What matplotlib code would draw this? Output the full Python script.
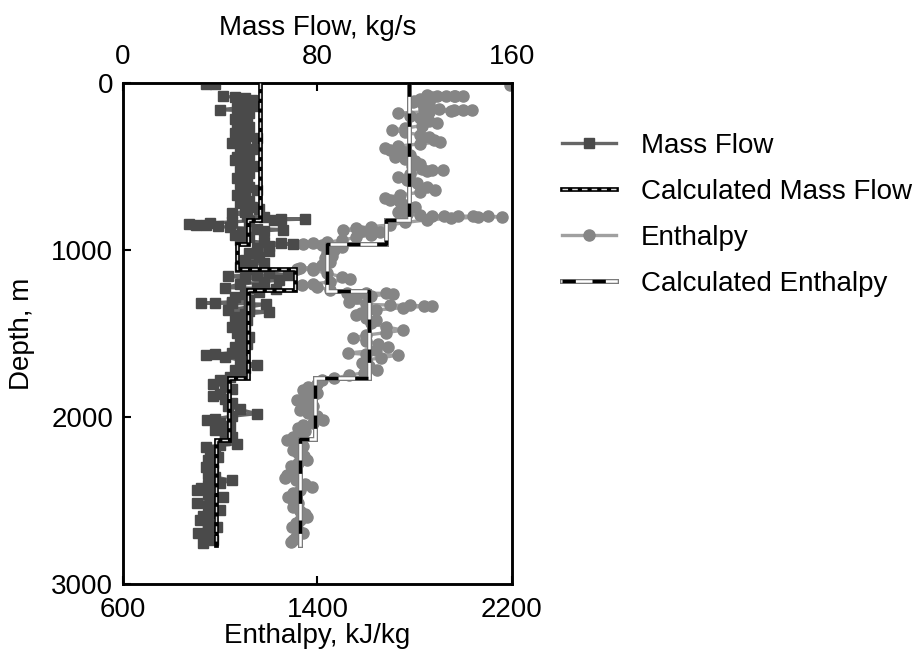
import numpy as np
import matplotlib
matplotlib.use('Agg')
import matplotlib.pyplot as plt

plt.rcParams['font.family'] = ['Liberation Sans', 'DejaVu Sans']

# measured mass flow (kg/s) vs depth (m)
mass_depth = [5, 6, np.nan,
              80, 85, 90, 100, 110, 120, 135, 150, 160, 165, 180, 200, 215, 230, 250, 265, 280, 300,
              315, 330, 345, 360, 380, 395, 410, 430, 445, 460, 475, 495, 510, 525, 540, 555, 570, 590,
              605, 620, 640, 655, 670, 690, 705, 720, 740, 755, 770, 780, 795, 805, 812, 815, 820, 825,
              832, 838, 842, 848, 853, 858, 865, 872, 878, 885, 895, 910, 925, 940, 955, 960, 963, 975,
              990, 1005, 1020, 1040, 1060, 1075, 1090, 1100, 1115, 1135, 1150, 1152, 1155, 1170, 1180,
              1190, 1205, 1225, 1230, 1235, 1250, 1265, 1280, 1300, 1310, 1315, 1317, 1320, 1325, 1340,
              1360, 1365, 1370, 1385, 1400, 1420, 1440, 1460, 1480, 1500, 1520, 1540, 1560, 1580, 1600,
              1615, 1625, 1630, 1640, 1660, 1690, 1705, 1720, 1740, 1760, 1780, 1800, 1815, 1835, 1860,
              1875, 1895, 1915, 1935, 1955, 1980, 1995, 2010, 2020, 2035, 2055, 2080, 2100, 2120, 2140,
              2160, 2170, 2180, 2200, 2220, 2240, 2260, 2275, 2300, 2320, 2340, 2360, 2380, 2395, 2410,
              2425, 2440, 2460, 2480, 2500, 2515, 2535, 2556, 2575, 2595, 2617, 2640, 2658, 2675, 2695,
              2715, 2735, 2755]
mass_flow = [34, 38, np.nan,
             41, 46, 50, 53, 49, 52, 54, 47, 40, 48, 52, 50, 46, 51, 47, 52, 48, 46,
             51, 55, 49, 45, 50, 53, 48, 52, 47, 46, 51, 54, 50, 48, 52, 49, 47, 51,
             48, 52, 55, 50, 47, 50, 52, 48, 53, 56, 50, 45, 51, 58, 65, 75, 62, 52,
             45, 36, 27, 30, 34, 39, 44, 55, 66, 58, 49, 46, 52, 48, 58, 65, 70, 60,
             55, 60, 52, 56, 50, 58, 53, 48, 52, 60, 68, 55, 43, 50, 64,
             58, 48, 42, 55, 63, 56, 50, 46, 52, 45, 38, 32, 45, 59, 52,
             43, 52, 60, 50, 46, 51, 48, 45, 50, 47, 52, 48, 51, 46, 49,
             45, 38, 34, 42, 48, 55, 50, 46, 48, 44, 40, 37, 42, 45, 40,
             37, 42, 45, 43, 48, 55, 45, 38, 34.5, 40, 44, 38, 42, 45, 42,
             47, 40, 34, 38, 36, 39, 35, 37, 34, 37, 35, 38, 45, 40, 35,
             32, 30.5, 35, 41, 36, 30.5, 35, 40, 36, 33, 31.5, 35, 38.5, 35, 31,
             34, 37, 33]

# measured enthalpy (kJ/kg) vs depth (m)
enth_depth = [12, np.nan,
              72, 75, 76, 77, 78, 80, 85, 95, 105, 114, 120, 125, 155, 158, 160, 162, 164, 168, 172,
              180, 195, 210, 225, 240, 255, 270, 282, 295, 311, 325, 340, 353, 365, 378, 389, 400, 415,
              430, 443, 455, 470, 485, 500, 515, 521, 523, 530, 545, 563, 580, 600, 620, 641, 655, 670,
              689, 700, 715, 730, 743, 755, 772, 785, 793, 795, 796, 797, 798, 799, 800, 805, 810, 820,
              835, 850, 860, 870, 880, 885, 895, 910, 925, 940, 955, 960, 963, 970, 985, 1000, 1018,
              1035, 1050, 1070, 1090, 1105, 1108, 1112, 1120, 1140, 1160, 1175, 1190, 1205, 1210, 1220,
              1240, 1255, 1258, 1260, 1262, 1275, 1290, 1310, 1325, 1330, 1332, 1334, 1336, 1345, 1360,
              1375, 1390, 1405, 1420, 1440, 1460, 1480, 1495, 1510, 1527, 1545, 1565, 1580, 1600, 1617,
              1625, 1630, 1645, 1660, 1677, 1695, 1718, 1735, 1750, 1767, 1780, 1800, 1820, 1838, 1855,
              1870, 1885, 1898, 1915, 1935, 1958, 1975, 1995, 2018, 2035, 2050, 2066, 2085, 2100, 2120,
              2138, 2155, 2175, 2198, 2215, 2235, 2257, 2275, 2295, 2317, 2335, 2350, 2365, 2380, 2400,
              2419, 2435, 2455, 2479, 2495, 2515, 2539, 2560, 2580, 2599, 2615, 2635, 2658, 2675, 2695,
              2718, 2735, 2748]
enthalpy = [2192, np.nan,
            1850, 1890, 1930, 1965, 2000, 1960, 1870, 1820, 1795, 1793, 1830, 1860, 1840, 1900, 1960, 2000, 2036, 1950, 1860,
            1731, 1780, 1820, 1860, 1892, 1830, 1760, 1707, 1760, 1820, 1860, 1880, 1904, 1820, 1730, 1678, 1700, 1760,
            1780, 1719, 1760, 1800, 1820, 1790, 1830, 1870, 1916, 1850, 1780, 1731, 1770, 1810, 1850, 1883, 1820, 1740,
            1678, 1700, 1740, 1760, 1800, 1760, 1731, 1770, 1822, 1870, 1920, 1980, 2040, 2100, 2159, 2060, 1950, 1850,
            1760, 1700, 1620, 1560, 1505, 1580, 1657, 1620, 1560, 1500, 1440, 1380, 1340, 1420, 1500, 1470, 1440,
            1460, 1430, 1450, 1420, 1380, 1330, 1316, 1380, 1440, 1500, 1534, 1450, 1380, 1336, 1400,
            1450, 1520, 1600, 1680, 1711, 1620, 1560, 1530, 1600, 1700, 1780, 1840, 1871, 1750, 1640,
            1580, 1560, 1600, 1640, 1620, 1680, 1752, 1680, 1600, 1546, 1600, 1650, 1690, 1640, 1526,
            1600, 1731, 1660, 1600, 1583, 1610, 1645, 1590, 1530, 1470, 1420, 1400, 1360, 1340, 1400,
            1380, 1340, 1316, 1350, 1380, 1330, 1360, 1400, 1423, 1380, 1340, 1320, 1350, 1320, 1300,
            1275, 1310, 1340, 1300, 1320, 1345, 1357, 1320, 1290, 1310, 1290, 1275, 1266, 1310, 1350,
            1377, 1330, 1300, 1280, 1300, 1320, 1300, 1330, 1350, 1357, 1330, 1310, 1295, 1320, 1340,
            1310, 1300, 1290]

# calculated step profiles
calc_mass_breaks = [0, 820, 964, 1114, 1242, 1767, 2138, 2765]
calc_mass = [56.4, 51.3, 46.8, 70.8, 51.4, 43.6, 38.3]
calc_enth_breaks = [0, 820, 964, 1244, 1765, 2133, 2765]
calc_enth = [1778, 1682, 1438, 1612, 1390, 1328]


def step_profile(breaks, vals):
    d = np.column_stack([breaks[:-1], breaks[1:]]).ravel()
    v = np.repeat(vals, 2)
    return v, d


fig = plt.figure(figsize=(9.19, 6.66), dpi=100)
ax = fig.add_axes([0.1338, 0.1231, 0.4233, 0.7523])
ax2 = ax.twiny()

FS = 20

# enthalpy (bottom axis)
l_enth, = ax.plot(enthalpy, enth_depth, '-', color='#a0a0a0', lw=2.4, marker='o',
                  ms=8, mfc='#858585', mec='#858585', zorder=2)
ev, ed = step_profile(calc_enth_breaks, calc_enth)
ce1, = ax.plot(ev, ed, color='#7a7a7a', lw=3.6, solid_joinstyle='miter', zorder=3)
ce2, = ax.plot(ev, ed, color='white', lw=1.8, solid_joinstyle='miter', zorder=3)
ce3, = ax.plot(ev, ed, color='black', lw=2.4, dashes=(4, 5), zorder=3)

# mass flow (top axis)
l_mass, = ax2.plot(mass_flow, mass_depth, '-', color='#666666', lw=2.4, marker='s',
                   ms=6.5, mfc='#4a4a4a', mec='#4a4a4a', zorder=2)
mv, md = step_profile(calc_mass_breaks, calc_mass)
cm1, = ax2.plot(mv, md, color='black', lw=3.4, solid_joinstyle='miter', zorder=3)
cm2, = ax2.plot(mv, md, color='#dddddd', lw=1.0, dashes=(4, 3), zorder=3)

ax.set_xlim(600, 2200)
ax2.set_xlim(0, 160)
ax.set_ylim(3000, 0)
ax.set_xticks([600, 1400, 2200])
ax2.set_xticks([0, 80, 160])
ax.set_yticks([0, 1000, 2000, 3000])

for a in (ax, ax2):
    a.tick_params(direction='in', length=6, width=1.5, labelsize=FS)
    for s in a.spines.values():
        s.set_linewidth(1.8)
ax.tick_params(axis='x', pad=9)
ax.tick_params(axis='y', pad=7)
ax2.tick_params(axis='x', pad=9)

ax.set_xlabel('Enthalpy, kJ/kg', fontsize=FS, labelpad=0)
ax.set_ylabel('Depth, m', fontsize=FS, labelpad=12)
ax2.set_xlabel('Mass Flow, kg/s', fontsize=FS, labelpad=7)

fig.legend([l_mass, (cm1, cm2), l_enth, (ce1, ce2, ce3)],
           ['Mass Flow', 'Calculated Mass Flow', 'Enthalpy', 'Calculated Enthalpy'],
           loc='upper left', bbox_to_anchor=(0.584, 0.838), frameon=False, fontsize=FS,
           handlelength=1.95, handletextpad=0.9, labelspacing=0.72, numpoints=1)

fig.savefig('out.png', dpi=100)
